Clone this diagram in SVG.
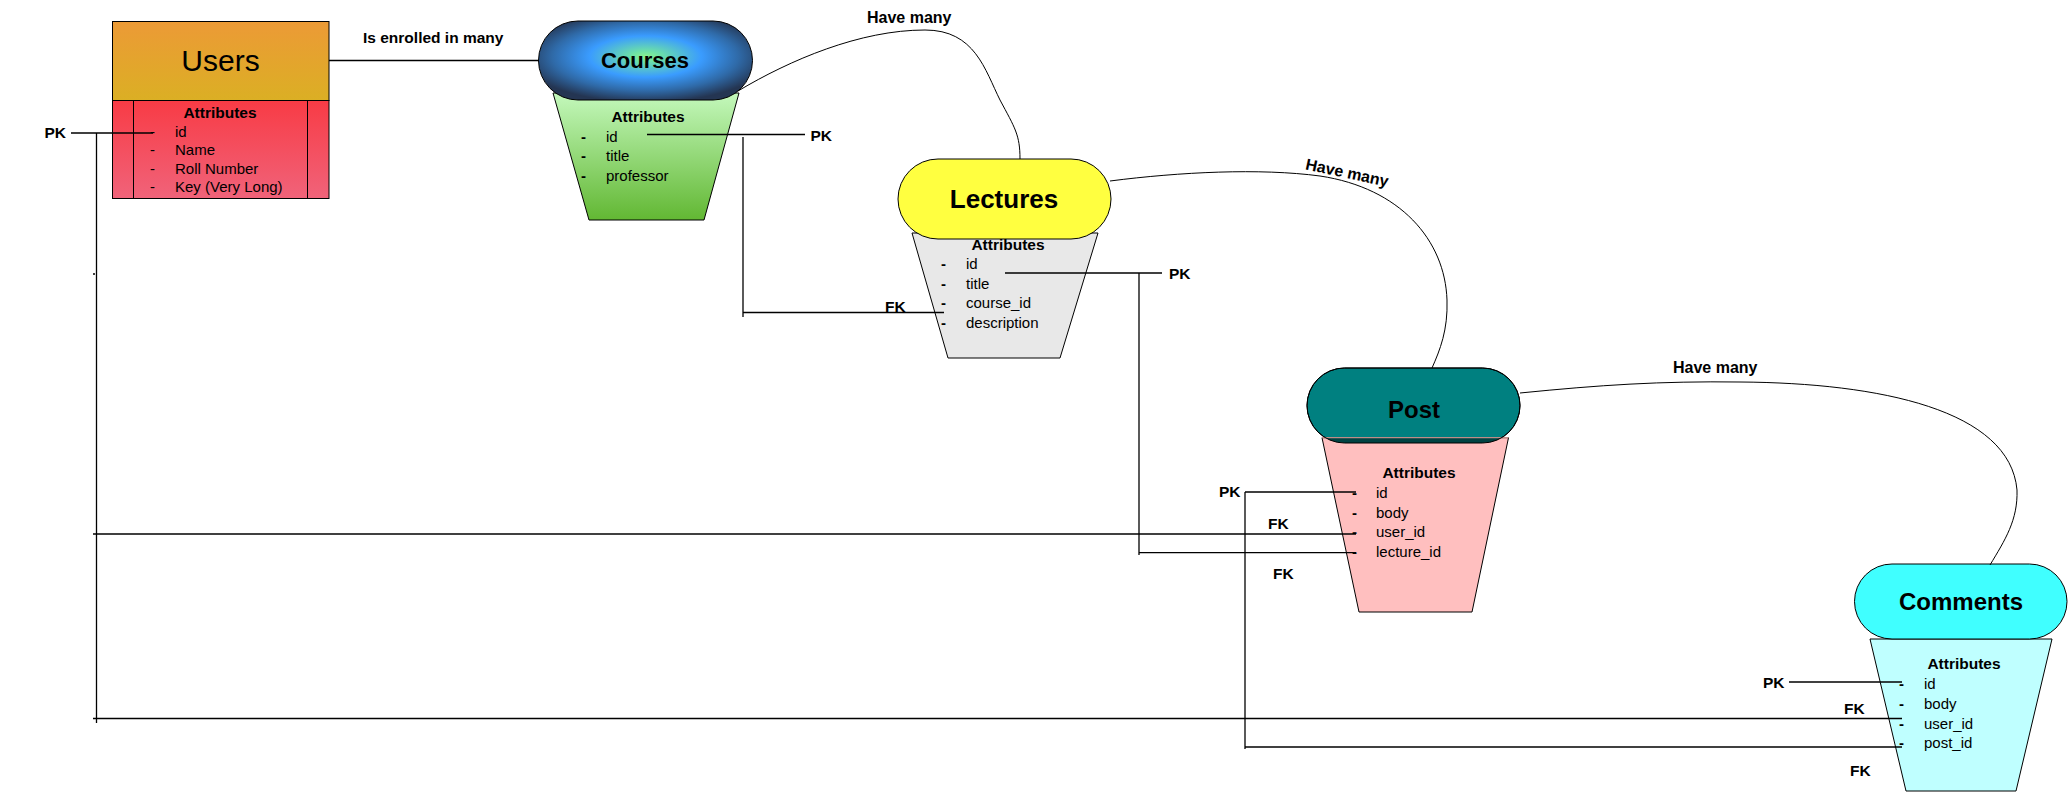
<svg xmlns="http://www.w3.org/2000/svg" width="2069" height="792" viewBox="0 0 2069 792">
<style>
text{font-family:"Liberation Sans",Arial,sans-serif;fill:#000}
.lbl{font-size:15.5px;font-weight:bold}
.hm{font-size:16px;font-weight:bold}
.ah{font-size:15.5px;font-weight:bold;text-anchor:middle}
.it{font-size:15px}
.db{font-size:15px;font-weight:bold}
.ttl{font-weight:bold;text-anchor:middle}
.ln{stroke:#000;stroke-width:1.3;fill:none}
.cv{stroke:#000;stroke-width:1;fill:none}
.sh{stroke:#000;stroke-width:1}
</style>
<defs>
<linearGradient id="gUh" x1="0" y1="0" x2="0" y2="1"><stop offset="0" stop-color="#EC9A36"/><stop offset="1" stop-color="#DBAF24"/></linearGradient>
<linearGradient id="gUb" x1="0" y1="0" x2="0" y2="1"><stop offset="0" stop-color="#F83B45"/><stop offset="1" stop-color="#F0637A"/></linearGradient>
<radialGradient id="gC" cx="0.5" cy="0.45" r="0.58"><stop offset="0" stop-color="#8AF28E"/><stop offset="0.12" stop-color="#6CE0A8"/><stop offset="0.45" stop-color="#3A9CFF"/><stop offset="0.75" stop-color="#2F6AA8"/><stop offset="1" stop-color="#243552"/></radialGradient>
<linearGradient id="gCt" x1="0" y1="0" x2="0" y2="1"><stop offset="0" stop-color="#C4F8BC"/><stop offset="1" stop-color="#62B833"/></linearGradient>
<clipPath id="cpPost"><rect x="1307" y="368" width="213" height="75" rx="37.5"/></clipPath>
</defs>
<rect width="2069" height="792" fill="#fff"/>

<g id="users">
<rect x="112.5" y="21.5" width="216.5" height="79" fill="url(#gUh)" class="sh"/>
<rect x="112.5" y="100.5" width="216.5" height="98" fill="url(#gUb)" class="sh"/>
<line class="sh" x1="133.5" y1="100.5" x2="133.5" y2="198.5"/>
<line class="sh" x1="307.5" y1="100.5" x2="307.5" y2="198.5"/>
<text x="220.5" y="71" font-size="30" text-anchor="middle">Users</text>
<text class="ah" x="220" y="118">Attributes</text>
<text class="it" x="150" y="136.5">-</text><text class="it" x="175" y="136.5">id</text>
<text class="it" x="150" y="155">-</text><text class="it" x="175" y="155">Name</text>
<text class="it" x="150" y="173.5">-</text><text class="it" x="175" y="173.5">Roll Number</text>
<text class="it" x="150" y="192">-</text><text class="it" x="175" y="192">Key (Very Long)</text>
</g>

<g id="courses">
<polygon points="553,93 739,93 704,220 589,220" fill="url(#gCt)" class="sh"/>
<rect x="538.5" y="21" width="214" height="79" rx="39.5" fill="url(#gC)" class="sh"/>
<text class="ttl" x="645" y="68" font-size="22">Courses</text>
<text class="ah" x="648" y="122">Attributes</text>
<text class="db" x="581" y="141.5">-</text><text class="it" x="606" y="141.5">id</text>
<text class="db" x="581" y="160.5">-</text><text class="it" x="606" y="160.5">title</text>
<text class="db" x="581" y="180.5">-</text><text class="it" x="606" y="180.5">professor</text>
</g>

<g id="lectures">
<polygon points="912,233 1098,233 1060,358 948,358" fill="#E8E8E8" class="sh"/>
<rect x="898" y="159" width="213" height="80" rx="40" fill="#FFFF40" class="sh"/>
<text class="ttl" x="1004" y="208" font-size="26">Lectures</text>
<text class="ah" x="1008" y="250">Attributes</text>
<text class="db" x="941" y="269">-</text><text class="it" x="966" y="269">id</text>
<text class="db" x="941" y="289">-</text><text class="it" x="966" y="289">title</text>
<text class="db" x="941" y="308">-</text><text class="it" x="966" y="308">course_id</text>
<text class="db" x="941" y="328">-</text><text class="it" x="966" y="328">description</text>
</g>

<g id="post">
<rect x="1307" y="368" width="213" height="75" rx="37.5" fill="#008080" class="sh"/>
<polygon points="1322,437.7 1508.5,437.7 1472,612 1359,612" fill="#FFBFBF" class="sh"/>
<rect x="1300" y="438" width="230" height="10" fill="#004242" clip-path="url(#cpPost)"/>
<line x1="1322" y1="437.7" x2="1508.5" y2="437.7" stroke="#E8A8A0" stroke-width="1"/>
<rect x="1307" y="368" width="213" height="75" rx="37.5" fill="none" class="sh"/>
<text class="ttl" x="1414" y="418" font-size="24">Post</text>
<text class="ah" x="1419" y="478">Attributes</text>
<text class="db" x="1352" y="498">-</text><text class="it" x="1376" y="498">id</text>
<text class="db" x="1352" y="518">-</text><text class="it" x="1376" y="518">body</text>
<text class="db" x="1352" y="537">-</text><text class="it" x="1376" y="537">user_id</text>
<text class="db" x="1352" y="557">-</text><text class="it" x="1376" y="557">lecture_id</text>
</g>

<g id="comments">
<polygon points="1870,639 2052,639 2016,791 1906,791" fill="#BFFFFF" class="sh"/>
<rect x="1854.5" y="564" width="212.5" height="75" rx="37.5" fill="#40FFFF" class="sh"/>
<text class="ttl" x="1961" y="610" font-size="24">Comments</text>
<text class="ah" x="1964" y="669">Attributes</text>
<text class="db" x="1899" y="689">-</text><text class="it" x="1924" y="689">id</text>
<text class="db" x="1899" y="709">-</text><text class="it" x="1924" y="709">body</text>
<text class="db" x="1899" y="729">-</text><text class="it" x="1924" y="729">user_id</text>
<text class="db" x="1899" y="748">-</text><text class="it" x="1924" y="748">post_id</text>
</g>

<g id="connectors">
<line class="ln" x1="329" y1="60.5" x2="539" y2="60.5"/>
<path class="cv" d="M738,91 C790,60 860,30 925,30 C975,30 985,70 1000,100 C1015,128 1020,135 1020,159"/>
<path class="cv" d="M1110,181 C1180,172 1260,168 1320,176 C1400,188 1445,240 1447,300 C1448,330 1440,350 1432,368"/>
<path class="cv" d="M1520,393 C1600,385 1660,381 1740,382 C1880,383 2010,410 2017,490 C2018,520 2005,540 1990,565"/>
<line class="ln" x1="71" y1="133" x2="153" y2="133"/>
<line class="ln" x1="96.5" y1="133" x2="96.5" y2="723"/>
<line class="ln" x1="93" y1="274" x2="95" y2="274"/>
<line class="ln" x1="93" y1="534" x2="1356" y2="534"/>
<line class="ln" x1="93" y1="718.5" x2="1902" y2="718.5"/>
<line class="ln" x1="647" y1="134.5" x2="805" y2="134.5"/>
<line class="ln" x1="743" y1="137" x2="743" y2="317"/>
<line class="ln" x1="743" y1="312.5" x2="944" y2="312.5"/>
<line class="ln" x1="1005" y1="273" x2="1162" y2="273"/>
<line class="ln" x1="1139" y1="273" x2="1139" y2="555"/>
<line class="ln" x1="1139" y1="552.7" x2="1356" y2="552.7"/>
<line class="ln" x1="1245" y1="492" x2="1356" y2="492"/>
<line class="ln" x1="1245" y1="492" x2="1245" y2="749"/>
<line class="ln" x1="1245" y1="747" x2="1902" y2="747"/>
<line class="ln" x1="1789" y1="682" x2="1902" y2="682"/>
<text class="lbl" x="363" y="43">Is enrolled in many</text>
<text class="hm" x="867" y="23">Have many</text>
<text class="hm" x="1346" y="178" text-anchor="middle" transform="rotate(12 1346 178)">Have many</text>
<text class="hm" x="1673" y="373">Have many</text>
<text class="lbl" x="44.5" y="138">PK</text>
<text class="lbl" x="810.5" y="141">PK</text>
<text class="lbl" x="885" y="312">FK</text>
<text class="lbl" x="1169" y="279">PK</text>
<text class="lbl" x="1219" y="497">PK</text>
<text class="lbl" x="1268" y="529">FK</text>
<text class="lbl" x="1273" y="579">FK</text>
<text class="lbl" x="1763" y="688">PK</text>
<text class="lbl" x="1844" y="714">FK</text>
<text class="lbl" x="1850" y="776">FK</text>
</g>
</svg>
